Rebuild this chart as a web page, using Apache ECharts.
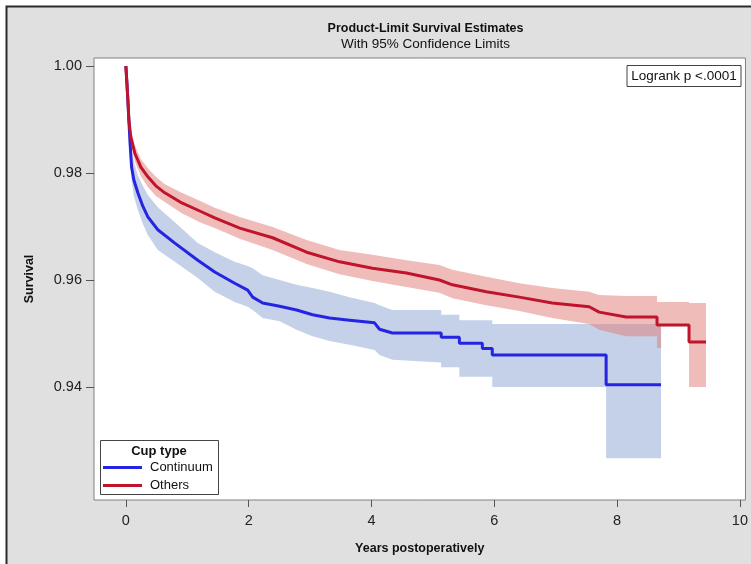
<!DOCTYPE html>
<html>
<head>
<meta charset="utf-8">
<script src="https://cdn.jsdelivr.net/npm/echarts@6/dist/echarts.min.js"></script>
<style>
  html, body { margin: 0; padding: 0; background: #fff; }
  #chart { width: 751px; height: 564px; }
</style>
</head>
<body>
<div id="chart"></div>
<script>
// Kaplan-Meier curves (years, survival)
var othersTime = [0, 0.016, 0.033, 0.049, 0.081, 0.146, 0.244, 0.358, 0.488, 0.634, 0.911, 1.203, 1.447, 1.854, 2.390, 2.943, 3.480, 4.016, 4.569, 5.106, 5.317, 5.870, 6.407, 6.943, 7.545, 7.707, 8.146, 8.650, 8.650, 9.171, 9.171, 9.447];
var othersSurv = [1, 0.9970, 0.9936, 0.9899, 0.9867, 0.9837, 0.9811, 0.9793, 0.9776, 0.9763, 0.9744, 0.9729, 0.9716, 0.9697, 0.9679, 0.9652, 0.9634, 0.9622, 0.9613, 0.9600, 0.9591, 0.9578, 0.9568, 0.9557, 0.9550, 0.9540, 0.9531, 0.9531, 0.9516, 0.9516, 0.9484, 0.9484];

var othersBandTime = [0, 0.016, 0.033, 0.049, 0.081, 0.146, 0.244, 0.358, 0.488, 0.634, 0.911, 1.203, 1.447, 1.854, 2.390, 2.943, 3.480, 4.016, 4.569, 5.106, 5.317, 5.870, 6.407, 6.943, 7.545, 7.707, 8.146, 8.650, 8.650, 8.715, 8.715, 9.171, 9.171, 9.447];
var othersUpper = [1, 0.9980, 0.9950, 0.9915, 0.9880, 0.9852, 0.9826, 0.9809, 0.9793, 0.9779, 0.9763, 0.9748, 0.9735, 0.9718, 0.9699, 0.9675, 0.9656, 0.9647, 0.9637, 0.9628, 0.9619, 0.9606, 0.9594, 0.9585, 0.9578, 0.9572, 0.9570, 0.9570, 0.9559, 0.9559, 0.9559, 0.9559, 0.9557, 0.9557];
var othersLower = [1, 0.9960, 0.9920, 0.9885, 0.9856, 0.9822, 0.9794, 0.9774, 0.9757, 0.9746, 0.9725, 0.9708, 0.9697, 0.9677, 0.9656, 0.9630, 0.9611, 0.9598, 0.9587, 0.9576, 0.9566, 0.9553, 0.9542, 0.9529, 0.9518, 0.9507, 0.9495, 0.9495, 0.9473, 0.9473, 0.9514, 0.9514, 0.9400, 0.9400];

var contTime = [0, 0.016, 0.033, 0.049, 0.065, 0.093, 0.130, 0.195, 0.276, 0.358, 0.520, 0.797, 1.171, 1.447, 1.772, 1.984, 2.065, 2.228, 2.504, 2.780, 3.041, 3.317, 3.642, 4.049, 4.130, 4.341, 5.135, 5.135, 5.431, 5.431, 5.805, 5.805, 5.967, 5.967, 7.821, 7.821, 8.715];
var contSurv = [1, 0.9970, 0.9936, 0.9899, 0.9862, 0.9811, 0.9787, 0.9763, 0.9738, 0.9718, 0.9694, 0.9669, 0.9637, 0.9615, 0.9594, 0.9581, 0.9568, 0.9557, 0.9551, 0.9544, 0.9535, 0.9529, 0.9525, 0.9520, 0.9508, 0.9501, 0.9501, 0.9493, 0.9493, 0.9482, 0.9482, 0.9472, 0.9472, 0.9460, 0.9460, 0.9404, 0.9404];

var contBandTime = [0, 0.016, 0.033, 0.049, 0.065, 0.093, 0.130, 0.195, 0.276, 0.358, 0.520, 0.797, 1.171, 1.447, 1.772, 1.984, 2.065, 2.228, 2.504, 2.780, 3.041, 3.317, 3.642, 4.049, 4.130, 4.341, 5.135, 5.135, 5.431, 5.431, 5.967, 5.967, 7.821, 7.821, 8.715];
var contUpper = [1, 0.9980, 0.9950, 0.9908, 0.9884, 0.9843, 0.9821, 0.9796, 0.9776, 0.9759, 0.9736, 0.9708, 0.9669, 0.9652, 0.9634, 0.9626, 0.9622, 0.9609, 0.9600, 0.9591, 0.9585, 0.9578, 0.9568, 0.9557, 0.9553, 0.9544, 0.9544, 0.9535, 0.9535, 0.9525, 0.9525, 0.9518, 0.9518, 0.9518, 0.9518];
var contLower = [1, 0.9960, 0.9920, 0.9890, 0.9843, 0.9787, 0.9757, 0.9731, 0.9705, 0.9684, 0.9656, 0.9634, 0.9604, 0.9578, 0.9559, 0.9550, 0.9544, 0.9529, 0.9523, 0.9507, 0.9495, 0.9486, 0.9479, 0.9469, 0.9460, 0.9451, 0.9446, 0.9437, 0.9437, 0.9419, 0.9419, 0.9400, 0.9400, 0.9267, 0.9267];

var yTicks = [0.94, 0.96, 0.98, 1.00];
var xTicks = [0, 2, 4, 6, 8, 10];

var blue = '#2424e2', red = '#c0142c';

function pairs(xs, ys) {
  return xs.map(function(x, i) { return [x, ys[i]]; });
}

// confidence band as one polygon: upper edge forward, lower edge back
function band(times, lower, upper, fill) {
  return {
    type: 'custom',
    silent: true,
    data: times.map(function(t, i) { return [t, lower[i], upper[i]]; }),
    encode: { x: 0, y: [1, 2] },
    renderItem: function(params, api) {
      if (params.dataIndex !== 0) return;
      var pts = [];
      for (var i = 0; i < times.length; i++) pts.push(api.coord([times[i], upper[i]]));
      for (var j = times.length - 1; j >= 0; j--) pts.push(api.coord([times[j], lower[j]]));
      return { type: 'polygon', shape: { points: pts }, style: { fill: fill } };
    }
  };
}

var chart = echarts.init(document.getElementById('chart'), null, { renderer: 'canvas' });
var font = '"Liberation Sans", Arial, sans-serif';

var option = {
  backgroundColor: '#ffffff',
  animation: false,
  title: {
    text: 'Product-Limit Survival Estimates',
    subtext: 'With 95% Confidence Limits',
    left: 420.5, top: 17, textAlign: 'center', itemGap: 2,
    textStyle: { fontFamily: font, fontSize: 12.5, fontWeight: 'bold', color: '#111' },
    subtextStyle: { fontFamily: font, fontSize: 13.5, color: '#111' }
  },
  grid: {
    left: 94, top: 58, width: 653, height: 442,
    show: true, backgroundColor: '#ffffff', borderColor: '#808080', borderWidth: 1
  },
  xAxis: {
    type: 'value', min: -0.519, max: 10.09,
    name: 'Years postoperatively', nameLocation: 'middle', nameGap: 42,
    nameTextStyle: { fontFamily: font, fontSize: 12.5, fontWeight: 'bold', color: '#111' },
    axisLine: { show: false, onZero: false },
    splitLine: { show: false },
    axisTick: { show: true, length: 7, customValues: xTicks, lineStyle: { color: '#555' } },
    axisLabel: { customValues: xTicks, margin: 13, fontFamily: font, fontSize: 14.5, color: '#222' }
  },
  yAxis: {
    type: 'value', min: 0.91888, max: 1.0015,
    name: 'Survival', nameLocation: 'middle', nameRotate: 90, nameGap: 58,
    nameTextStyle: { fontFamily: font, fontSize: 12.5, fontWeight: 'bold', color: '#111' },
    axisLine: { show: false, onZero: false },
    splitLine: { show: false },
    axisTick: { show: true, length: 8, customValues: yTicks, lineStyle: { color: '#555' } },
    axisLabel: {
      customValues: yTicks, margin: 12, fontFamily: font, fontSize: 14.5, color: '#222',
      formatter: function(v) { return v.toFixed(2); }
    }
  },
  graphic: [
    { type: 'rect', z: -10, shape: { x: 6, y: 6, width: 745, height: 558 }, style: { fill: '#e0e0e0' } },
    { type: 'polyline', z: -9, shape: { points: [[6.5, 564], [6.5, 6.5], [751, 6.5]] }, style: { stroke: '#2a2a2a', lineWidth: 2, fill: null } },
    { type: 'rect', z: 10, shape: { x: 627, y: 65.5, width: 114, height: 21 }, style: { fill: '#fff', stroke: '#444', lineWidth: 1 } },
    { type: 'text', z: 11, x: 684, y: 76, style: { text: 'Logrank p <.0001', fontFamily: font, fontSize: 13.5, fill: '#111', align: 'center', verticalAlign: 'middle' } },
    { type: 'rect', z: 10, shape: { x: 100.5, y: 440.5, width: 118, height: 54 }, style: { fill: '#fff', stroke: '#444', lineWidth: 1 } },
    { type: 'text', z: 11, x: 159, y: 451, style: { text: 'Cup type', fontFamily: font, fontSize: 13, fontWeight: 'bold', fill: '#111', align: 'center', verticalAlign: 'middle' } },
    { type: 'line', z: 11, shape: { x1: 103, y1: 467.5, x2: 142, y2: 467.5 }, style: { stroke: blue, lineWidth: 3 } },
    { type: 'text', z: 11, x: 150, y: 467.5, style: { text: 'Continuum', fontFamily: font, fontSize: 13, fill: '#111', verticalAlign: 'middle' } },
    { type: 'line', z: 11, shape: { x1: 103, y1: 485.5, x2: 142, y2: 485.5 }, style: { stroke: red, lineWidth: 3 } },
    { type: 'text', z: 11, x: 150, y: 485.5, style: { text: 'Others', fontFamily: font, fontSize: 13, fill: '#111', verticalAlign: 'middle' } }
  ],
  series: [
    band(contBandTime, contLower, contUpper, 'rgba(139,163,209,0.5)'),
    band(othersBandTime, othersLower, othersUpper, 'rgba(225,121,115,0.5)'),
    {
      name: 'Continuum', type: 'line', data: pairs(contTime, contSurv),
      showSymbol: false, silent: true,
      lineStyle: { color: blue, width: 3 }, itemStyle: { color: blue }
    },
    {
      name: 'Others', type: 'line', data: pairs(othersTime, othersSurv),
      showSymbol: false, silent: true,
      lineStyle: { color: red, width: 3 }, itemStyle: { color: red }
    }
  ]
};
chart.setOption(option);
</script>
</body>
</html>
